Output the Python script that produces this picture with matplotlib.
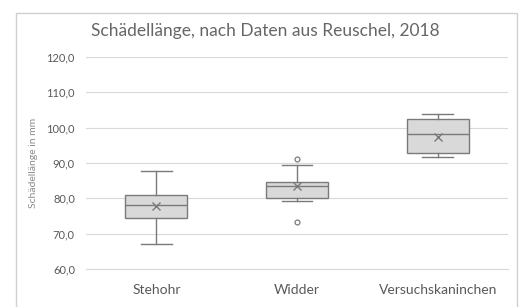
import matplotlib
matplotlib.use("Agg")
import matplotlib.pyplot as plt
from matplotlib.patches import Rectangle

plt.rcParams['font.family'] = ['Lato', 'DejaVu Sans']

# Daten
gruppen = ["Stehohr", "Widder", "Versuchskaninchen"]
q1 = [74.5, 80.2, 92.9]
median = [78.1, 83.4, 98.1]
q3 = [80.9, 84.7, 102.4]
whis_lo = [67.2, 79.2, 91.6]
whis_hi = [87.7, 89.3, 103.9]
mittel = [77.8, 83.6, 97.4]
ausreisser = [[], [91.1, 73.2], []]
y_ticks = [60, 70, 80, 90, 100, 110, 120]

grau = "#595959"
fig = plt.figure(figsize=(5.2, 3.07), dpi=100)
ax = fig.add_axes([86/520, 1-269/307, (508-86)/520, (269-57)/307])

stats = []
for i, g in enumerate(gruppen):
    stats.append(dict(label=g, q1=q1[i], med=median[i], q3=q3[i],
                      whislo=whis_lo[i], whishi=whis_hi[i],
                      mean=mittel[i], fliers=ausreisser[i]))

kante = "#7a7a7a"
ax.bxp(stats, positions=[0, 1, 2], widths=0.44, patch_artist=True,
       showmeans=True, meanline=False,
       boxprops=dict(facecolor="#d9d9d9", edgecolor=kante, linewidth=1.0),
       medianprops=dict(color=kante, linewidth=1.0),
       whiskerprops=dict(color=kante, linewidth=1.0),
       capprops=dict(color=kante, linewidth=1.0),
       meanprops=dict(marker="x", markeredgecolor=kante, markersize=5.5, markeredgewidth=1.0),
       flierprops=dict(marker="o", markerfacecolor="none", markeredgecolor=kante,
                       markersize=3.5, markeredgewidth=0.9))

ax.set_xlim(-0.5, 2.5)
ax.set_ylim(60, 120)
ax.set_yticks(y_ticks)
ax.set_yticklabels([f"{v:.1f}".replace(".", ",") for v in y_ticks], fontsize=8, color=grau)
ax.set_xticks([0, 1, 2])
ax.set_xticklabels(gruppen, fontsize=10, color=grau)
ax.tick_params(length=0, pad=8)
ax.tick_params(axis="x", pad=11)
ax.grid(axis="y", color="#d9d9d9", linewidth=0.8)
ax.set_axisbelow(True)
for s in ["left", "right", "top"]:
    ax.spines[s].set_visible(False)
ax.spines["bottom"].set_color("#d9d9d9")

ax.set_ylabel("Schädellänge in mm", fontsize=7.5, color="#8c8c8c", labelpad=6)

fig.text(265/520, 1-31/307, "Schädellänge, nach Daten aus Reuschel, 2018",
         ha="center", va="center", fontsize=12.5, color="#666666")

# Diagrammrahmen
fig.patches.append(Rectangle((16/520, -0.05), (517-16)/520, 1.05-13/307,
                             transform=fig.transFigure, fill=False,
                             edgecolor="#d0d0d0", linewidth=1.0))

fig.savefig("out.png", dpi=100)
